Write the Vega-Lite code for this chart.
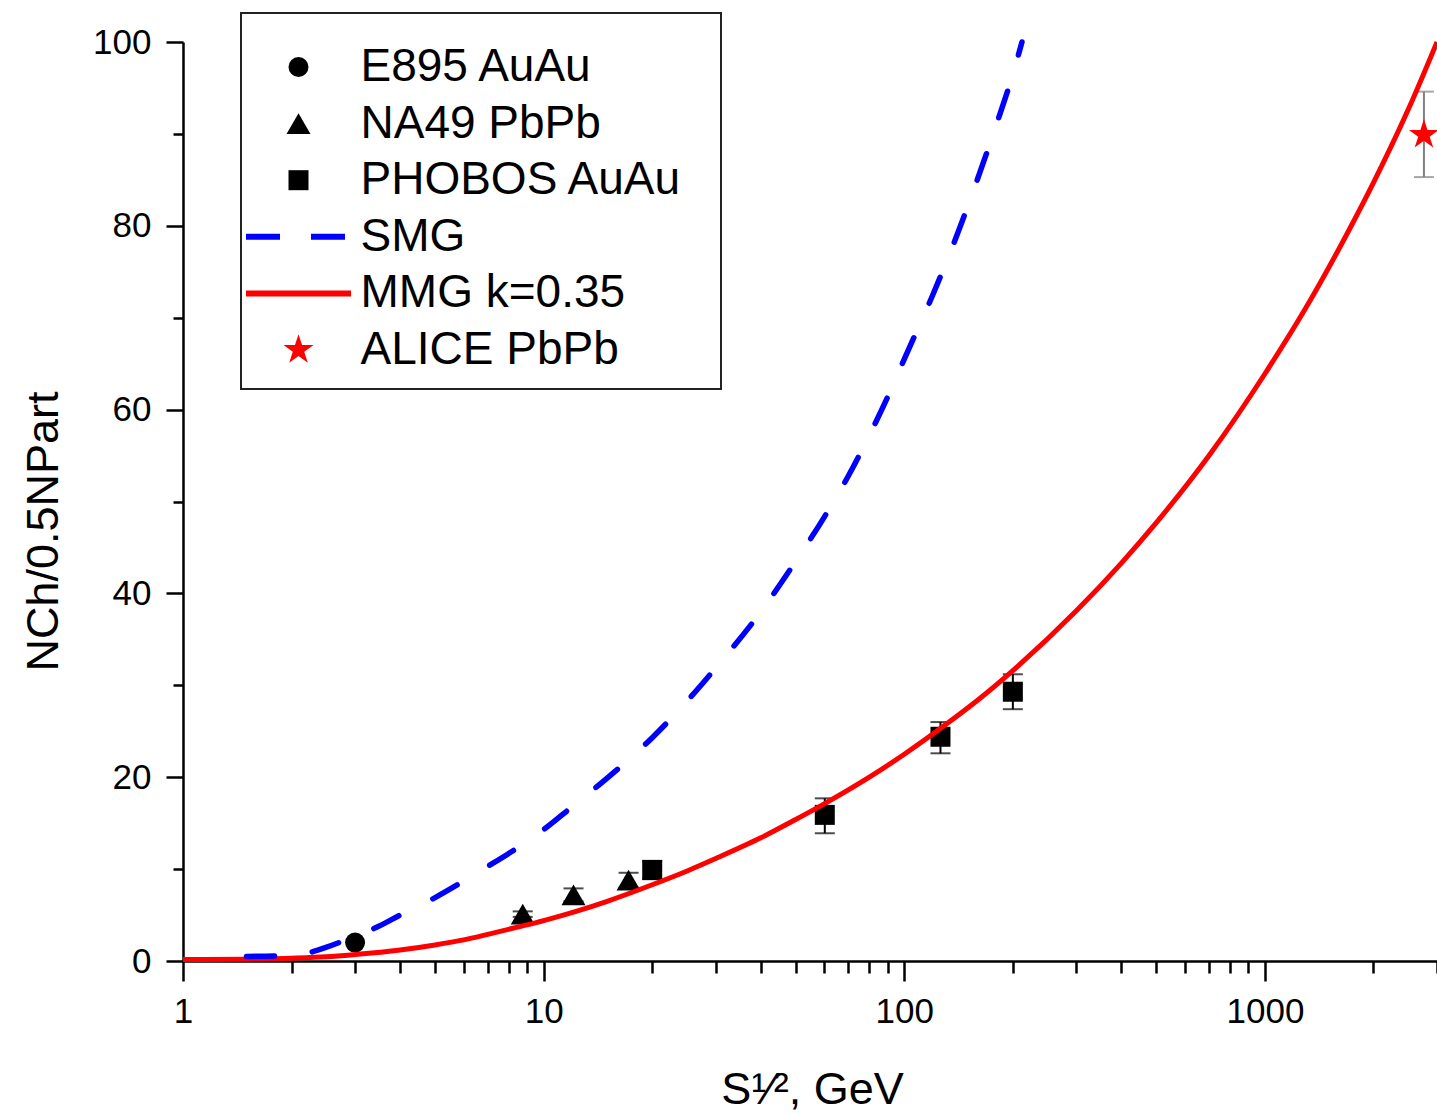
{
  "$schema": "https://vega.github.io/schema/vega-lite/v6.json",
  "width": 1254,
  "height": 919,
  "autosize": "none",
  "padding": {"left": 183, "top": 42, "right": 0, "bottom": 155},
  "background": "white",
  "config": {
    "view": {"stroke": null},
    "font": "Liberation Sans",
    "axis": {"labelFont": "Liberation Sans", "titleFont": "Liberation Sans", "labelColor": "black", "titleColor": "black", "titleFontWeight": "normal", "domainColor": "black", "tickColor": "black", "domainWidth": 2.5, "tickWidth": 2.5, "grid": false},
    "legend": {"strokeWidth": 2}
  },
  "resolve": {"axis": {"x": "independent", "y": "independent"}},
  "datasets": {
    "points": [
      {"series": "E895 AuAu", "x": 3.0, "y": 2.0},
      {"series": "NA49 PbPb", "x": 8.75, "y": 5.1},
      {"series": "NA49 PbPb", "x": 12.1, "y": 7.2},
      {"series": "NA49 PbPb", "x": 17.2, "y": 8.8},
      {"series": "PHOBOS AuAu", "x": 20.0, "y": 9.9},
      {"series": "PHOBOS AuAu", "x": 60.2, "y": 15.9},
      {"series": "PHOBOS AuAu", "x": 126, "y": 24.4},
      {"series": "PHOBOS AuAu", "x": 200, "y": 29.3},
      {"series": "ALICE PbPb", "x": 2760, "y": 89.9}
    ],
    "errors": [
      {"series": "NA49 PbPb", "x": 8.75, "lo": 4.8, "hi": 5.4},
      {"series": "NA49 PbPb", "x": 12.1, "lo": 6.5, "hi": 7.9},
      {"series": "NA49 PbPb", "x": 17.2, "lo": 8.0, "hi": 9.6},
      {"series": "PHOBOS AuAu", "x": 20.0, "lo": 8.9, "hi": 10.9},
      {"series": "PHOBOS AuAu", "x": 60.2, "lo": 13.9, "hi": 17.7},
      {"series": "PHOBOS AuAu", "x": 126, "lo": 22.6, "hi": 26.0},
      {"series": "PHOBOS AuAu", "x": 200, "lo": 27.4, "hi": 31.2},
      {"series": "ALICE PbPb", "x": 2760, "lo": 85.3, "hi": 94.6}
    ],
    "smg": [
      {"x": 1.5, "y": 0.5}, {"x": 1.8, "y": 0.55}, {"x": 2.0, "y": 0.65}, {"x": 2.2, "y": 0.85},
      {"x": 2.5, "y": 1.5}, {"x": 3, "y": 2.7}, {"x": 3.5, "y": 3.8}, {"x": 4, "y": 5.0},
      {"x": 5, "y": 6.9}, {"x": 6, "y": 8.7}, {"x": 7, "y": 10.3}, {"x": 8, "y": 11.7},
      {"x": 10, "y": 14.3}, {"x": 12, "y": 16.8}, {"x": 15, "y": 19.9}, {"x": 20, "y": 24.3},
      {"x": 25, "y": 28.3}, {"x": 30, "y": 31.9}, {"x": 40, "y": 38.0}, {"x": 50, "y": 43.5},
      {"x": 60, "y": 48.3}, {"x": 70, "y": 52.8}, {"x": 80, "y": 57.2}, {"x": 90, "y": 61.4},
      {"x": 100, "y": 65.5}, {"x": 120, "y": 72.5}, {"x": 140, "y": 79.0}, {"x": 160, "y": 85.2},
      {"x": 180, "y": 91.0}, {"x": 200, "y": 96.5}, {"x": 212, "y": 100}
    ],
    "mmg": [
      {"x": 1, "y": 0.15}, {"x": 1.5, "y": 0.2}, {"x": 2, "y": 0.3}, {"x": 2.5, "y": 0.45},
      {"x": 3, "y": 0.7}, {"x": 4, "y": 1.2}, {"x": 5, "y": 1.75}, {"x": 6, "y": 2.3},
      {"x": 7, "y": 2.9}, {"x": 8.7, "y": 3.8}, {"x": 10, "y": 4.4}, {"x": 12.3, "y": 5.4},
      {"x": 15, "y": 6.5}, {"x": 20, "y": 8.3}, {"x": 25, "y": 9.8}, {"x": 30, "y": 11.15},
      {"x": 40, "y": 13.4}, {"x": 50, "y": 15.4}, {"x": 60, "y": 17.1}, {"x": 80, "y": 20.0},
      {"x": 100, "y": 22.5}, {"x": 130, "y": 25.7}, {"x": 160, "y": 28.4}, {"x": 200, "y": 31.6},
      {"x": 300, "y": 38.1}, {"x": 400, "y": 43.3}, {"x": 500, "y": 47.7}, {"x": 700, "y": 55.0},
      {"x": 1000, "y": 63.9}, {"x": 1300, "y": 71.1}, {"x": 1730, "y": 79.9}, {"x": 2000, "y": 84.7},
      {"x": 2500, "y": 92.7}, {"x": 3000, "y": 100}
    ]
  },
  "layer": [
    {
      "data": {"name": "errors"},
      "mark": {"type": "rule", "strokeWidth": 2},
      "encoding": {
        "x": {"field": "x", "type": "quantitative", "scale": {"type": "log", "domain": [1, 3000]}, "axis": null},
        "y": {"field": "lo", "type": "quantitative", "scale": {"domain": [0, 100]}, "axis": null},
        "y2": {"field": "hi"},
        "color": {"condition": {"test": "datum.series === 'ALICE PbPb'", "value": "#808080"}, "value": "black"}
      }
    },
    {
      "data": {"name": "errors"},
      "transform": [{"fold": ["lo", "hi"], "as": ["k", "v"]}],
      "mark": {"type": "tick", "orient": "horizontal", "size": 20, "thickness": 2},
      "encoding": {
        "x": {"field": "x", "type": "quantitative", "scale": {"type": "log", "domain": [1, 3000]}, "axis": null},
        "y": {"field": "v", "type": "quantitative", "scale": {"domain": [0, 100]}, "axis": null},
        "color": {"condition": {"test": "datum.series === 'ALICE PbPb'", "value": "#808080"}, "value": "black"}
      }
    },
    {
      "data": {"name": "points"},
      "mark": {"type": "point", "filled": true, "opacity": 1, "size": 400, "strokeWidth": 6},
      "encoding": {
        "x": {
          "field": "x", "type": "quantitative",
          "scale": {"type": "log", "domain": [1, 3000]},
          "axis": {
            "orient": "bottom",
            "title": "S¹⁄², GeV",
            "values": [1, 10, 100, 1000],
            "format": "d",
            "tickSize": 20,
            "labelFontSize": 35,
            "labelBaseline": "alphabetic",
            "labelPadding": 41,
            "labelFlush": false,
            "labelOverlap": false,
            "titleFontSize": 45,
            "titleX": 629,
            "titleY": 142,
            "titleAlign": "center",
            "titleBaseline": "alphabetic"
          }
        },
        "y": {
          "field": "y", "type": "quantitative",
          "scale": {"domain": [0, 100]},
          "axis": {
            "orient": "left",
            "title": "NCh/0.5NPart",
            "values": [0, 20, 40, 60, 80, 100],
            "tickSize": 17,
            "labelFontSize": 35,
            "labelPadding": 15,
            "labelOverlap": false,
            "titleFontSize": 45,
            "titleAngle": -90,
            "titleX": -126,
            "titleY": 489,
            "titleAlign": "center",
            "titleBaseline": "alphabetic"
          }
        },
        "fill": {
          "field": "series", "type": "nominal",
          "scale": {
            "domain": ["E895 AuAu", "NA49 PbPb", "PHOBOS AuAu", "SMG", "MMG k=0.35", "ALICE PbPb"],
            "range": ["#000000", "#000000", "#000000", "transparent", "transparent", "#ff0000"]
          },
          "legend": {
            "orient": "none", "legendX": 58, "legendY": -29,
            "title": " ", "titleFontSize": 10, "titlePadding": 5,
            "padding": 16, "rowPadding": 10.6, "symbolOffset": 18.5, "labelOffset": 39,
            "symbolSize": 400, "symbolStrokeWidth": 6, "symbolOpacity": 1,
            "labelFontSize": 46, "labelFont": "Liberation Sans", "labelColor": "black", "labelLimit": 800,
            "labelExpr": "datum.label + '\u00a0\u2009\u200b'",
            "strokeColor": "#222222", "fillColor": "white"
          }
        },
        "stroke": {
          "field": "series", "type": "nominal",
          "scale": {
            "domain": ["E895 AuAu", "NA49 PbPb", "PHOBOS AuAu", "SMG", "MMG k=0.35", "ALICE PbPb"],
            "range": ["", "", "", "#0000ff", "#ff0000", ""]
          },
          "legend": {
            "orient": "none", "legendX": 58, "legendY": -29,
            "title": " ", "titleFontSize": 10, "titlePadding": 5,
            "padding": 16, "rowPadding": 10.6, "symbolOffset": 18.5, "labelOffset": 39,
            "symbolSize": 400, "symbolStrokeWidth": 6, "symbolOpacity": 1,
            "labelFontSize": 46, "labelFont": "Liberation Sans", "labelColor": "black", "labelLimit": 800,
            "labelExpr": "datum.label + '\u00a0\u2009\u200b'",
            "strokeColor": "#222222", "fillColor": "white"
          }
        },
        "strokeDash": {
          "field": "series", "type": "nominal",
          "scale": {
            "domain": ["E895 AuAu", "NA49 PbPb", "PHOBOS AuAu", "SMG", "MMG k=0.35", "ALICE PbPb"],
            "range": [[1, 0], [1, 0], [1, 0], [34, 31], [1, 0], [1, 0]]
          },
          "legend": {
            "orient": "none", "legendX": 58, "legendY": -29,
            "title": " ", "titleFontSize": 10, "titlePadding": 5,
            "padding": 16, "rowPadding": 10.6, "symbolOffset": 18.5, "labelOffset": 39,
            "symbolSize": 400, "symbolStrokeWidth": 6, "symbolOpacity": 1,
            "labelFontSize": 46, "labelFont": "Liberation Sans", "labelColor": "black", "labelLimit": 800,
            "labelExpr": "datum.label + '\u00a0\u2009\u200b'",
            "strokeColor": "#222222", "fillColor": "white"
          }
        },
        "shape": {
          "field": "series", "type": "nominal",
          "scale": {
            "domain": ["E895 AuAu", "NA49 PbPb", "PHOBOS AuAu", "SMG", "MMG k=0.35", "ALICE PbPb"],
            "range": ["circle", "M0,-1.04L1.2,1.04L-1.2,1.04Z", "square", "M-5.25,0L5.25,0", "M-5.25,0L5.25,0", "M0,-1.58L0.3547,-0.4882L1.5026,-0.4882L0.574,0.1864L0.9287,1.2782L0,0.6036L-0.9287,1.2782L-0.574,0.1864L-1.5026,-0.4882L-0.3547,-0.4882Z"]
          },
          "legend": {
            "orient": "none", "legendX": 58, "legendY": -29,
            "title": " ", "titleFontSize": 10, "titlePadding": 5,
            "padding": 16, "rowPadding": 10.6, "symbolOffset": 18.5, "labelOffset": 39,
            "symbolSize": 400, "symbolStrokeWidth": 6, "symbolOpacity": 1,
            "labelFontSize": 46, "labelFont": "Liberation Sans", "labelColor": "black", "labelLimit": 800,
            "labelExpr": "datum.label + '\u00a0\u2009\u200b'",
            "strokeColor": "#222222", "fillColor": "white"
          }
        }
      }
    },
    {
      "data": {"name": "mmg"},
      "mark": {"type": "line", "color": "#ff0000", "strokeWidth": 5, "interpolate": "monotone"},
      "encoding": {
        "x": {"field": "x", "type": "quantitative", "scale": {"type": "log", "domain": [1, 3000]}, "axis": null},
        "y": {"field": "y", "type": "quantitative", "scale": {"domain": [0, 100]}, "axis": null}
      }
    },
    {
      "data": {"name": "smg"},
      "mark": {"type": "line", "color": "#0000ff", "strokeWidth": 5.5, "strokeDash": [28, 38], "strokeCap": "round", "interpolate": "monotone"},
      "encoding": {
        "x": {
          "field": "x", "type": "quantitative", "scale": {"type": "log", "domain": [1, 3000]},
          "axis": {"orient": "bottom", "title": null, "values": [2, 3, 4, 5, 6, 7, 8, 9, 20, 30, 40, 50, 60, 70, 80, 90, 200, 300, 400, 500, 600, 700, 800, 900, 2000, 3000], "labels": false, "domain": false, "tickSize": 12}
        },
        "y": {
          "field": "y", "type": "quantitative", "scale": {"domain": [0, 100]},
          "axis": {"orient": "left", "title": null, "values": [10, 30, 50, 70, 90], "labels": false, "domain": false, "tickSize": 10}
        }
      }
    }
  ]
}
